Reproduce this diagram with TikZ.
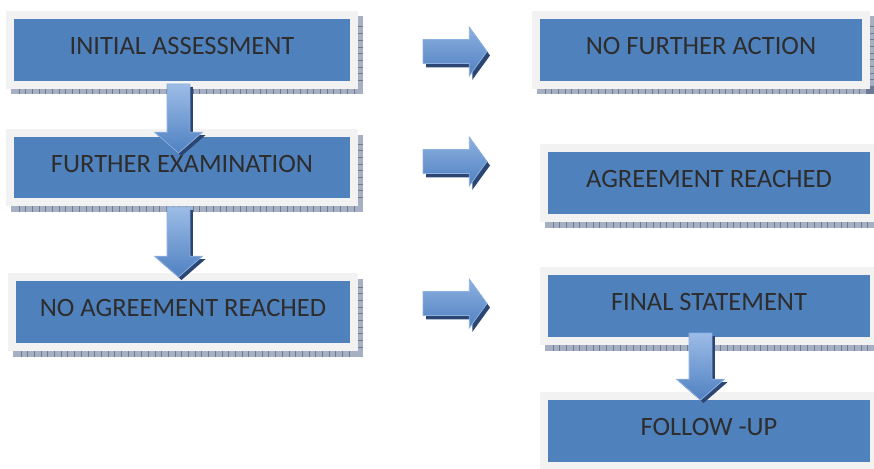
\documentclass[tikz,border=0pt]{standalone}
\usepackage{fontspec}
\setmainfont{Carlito}
\usetikzlibrary{positioning, shapes.arrows, shadows}

\definecolor{boxblue}{HTML}{4F81BD}
\definecolor{framegray}{HTML}{F2F2F2}
\definecolor{hatchgray}{HTML}{A7B0C2}
\definecolor{hatchline}{HTML}{6E7B95}
\definecolor{labelgray}{HTML}{2D2D2D}
\definecolor{arrowlight}{HTML}{9DBCE6}
\definecolor{arrowdark}{HTML}{4F81C2}
\definecolor{arrowedge}{HTML}{8DB0E0}
\definecolor{arrowshadow}{HTML}{2B4673}

\tikzset{
    stage/.style={rectangle, fill=boxblue, minimum width=322pt, minimum height=62pt,
        inner sep=0pt, outer sep=0pt, text=labelgray,
        font=\fontsize{26.5}{30}\selectfont, text height=17pt, text depth=8pt,
        preaction={fill=hatchgray, draw=hatchgray, line width=16pt,
            transform canvas={shift={(4.5pt,-5.5pt)}}},
        preaction={draw=hatchline, line width=16pt, dash pattern=on 0.7pt off 6pt,
            transform canvas={shift={(4.5pt,-5.5pt)}}},
        preaction={draw=framegray, line width=16pt}},
    flowarrow/.style={single arrow, draw=arrowedge, line width=0.8pt,
        outer sep=0pt, single arrow head indent=0pt,
        single arrow head extend=12.5pt},
    rightarrow/.style={flowarrow, minimum height=64pt, inner xsep=0pt, inner ysep=11.5pt,
        single arrow tip angle=108, top color=arrowlight!80!arrowdark, bottom color=arrowdark,
        general shadow={fill=arrowshadow, shadow xshift=3pt, shadow yshift=-4pt}},
    downarrow/.style={flowarrow, shape border rotate=270, inner xsep=11pt, inner ysep=0pt,
        single arrow tip angle=98, top color=arrowlight, bottom color=arrowdark,
        general shadow={fill=arrowshadow, shadow xshift=3pt, shadow yshift=-3pt}}
}

\begin{document}
\begin{tikzpicture}[x=1pt, y=-1pt]
    \useasboundingbox (0,0) rectangle (874,468);
    \clip (0,0) rectangle (874,468);

    % Left column
    \node[stage, minimum width=336pt] (ia) at (182,50) {INITIAL ASSESSMENT};
    \node[stage, minimum width=336pt, minimum height=61pt] (fe) [below=56pt of ia] {FURTHER EXAMINATION};
    \node[stage, minimum width=334pt] (nar) [below=83pt of fe, xshift=1pt] {NO AGREEMENT REACHED};

    % Right column
    \node[stage] (nfa) [right=190pt of ia] {NO FURTHER ACTION};
    \node[stage] (ar) [below=71pt of nfa, xshift=8pt] {AGREEMENT REACHED};
    \node[stage] (fs) [below=61pt of ar] {FINAL STATEMENT};
    \node[stage] (fu) [below=63pt of fs] {FOLLOW -UP};

    % Down arrows
    \node[downarrow, minimum height=69pt, anchor=tail] (d1) at ([shift={(-3.5,3)}]ia.south) {};
    \node[downarrow, minimum height=70pt, anchor=tail] (d2) at ([shift={(-3.5,9)}]fe.south) {};
    \node[downarrow, minimum height=67pt, anchor=tail] (d3) at ([shift={(-8.5,-4)}]fs.south) {};

    % Right arrows
    \node[rightarrow, anchor=tail] (r1) at ([shift={(73,1.5)}]ia.east) {};
    \node[rightarrow, anchor=tail] (r2) at ([shift={(73,-6)}]fe.east) {};
    \node[rightarrow, anchor=tail] (r3) at ([shift={(73,-8.5)}]nar.east) {};

\end{tikzpicture}
\end{document}
